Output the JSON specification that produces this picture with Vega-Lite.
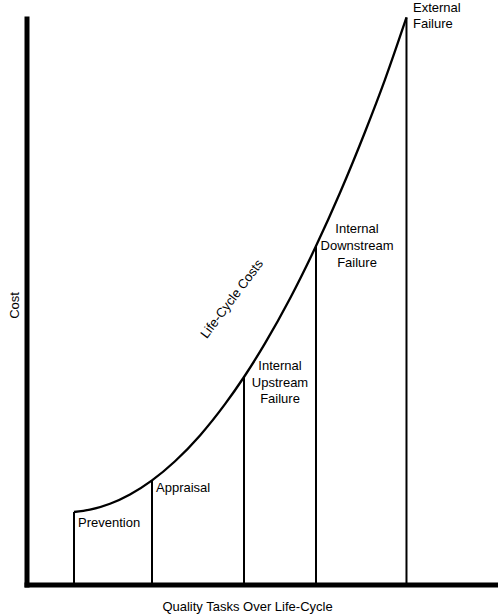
{
  "$schema": "https://vega.github.io/schema/vega-lite/v6.json",
  "autosize": {"type": "none"},
  "padding": {"left": 26.5, "top": 18.5, "right": 0, "bottom": 29.5},
  "width": 471.5,
  "height": 566,
  "background": "white",
  "config": {
    "view": {"stroke": null},
    "font": "Liberation Sans",
    "axis": {
      "domain": true, "domainWidth": 5, "domainColor": "black", "domainCap": "square",
      "ticks": false, "labels": false, "grid": false,
      "titleFont": "Liberation Sans", "titleFontSize": 13, "titleFontWeight": "normal", "titleColor": "black"
    }
  },
  "datasets": {
    "curve": [
      {"x": 10.07, "y": 12.81}, {"x": 13.47, "y": 13.22}, {"x": 17.71, "y": 14.26},
      {"x": 21.95, "y": 15.90}, {"x": 26.62, "y": 18.39}, {"x": 31.50, "y": 21.77},
      {"x": 36.80, "y": 26.34}, {"x": 42.10, "y": 31.86}, {"x": 46.13, "y": 36.66},
      {"x": 50.58, "y": 42.60}, {"x": 55.89, "y": 50.53}, {"x": 61.40, "y": 59.79},
      {"x": 66.49, "y": 69.21}, {"x": 71.79, "y": 79.95}, {"x": 76.03, "y": 89.20},
      {"x": 80.59, "y": 100.18}
    ],
    "bars": [
      {"task": "Prevention", "x": 10.07, "y": 12.81},
      {"task": "Appraisal", "x": 26.62, "y": 18.39},
      {"task": "Internal Upstream Failure", "x": 46.13, "y": 36.66},
      {"task": "Internal Downstream Failure", "x": 61.40, "y": 59.79},
      {"task": "External Failure", "x": 80.59, "y": 100.18}
    ],
    "labelsLeft": [
      {"label": "Prevention", "x": 10.92, "y": 10.87},
      {"label": "Appraisal", "x": 27.47, "y": 17.05},
      {"label": "External", "x": 81.97, "y": 101.94},
      {"label": "Failure", "x": 81.97, "y": 99.03}
    ],
    "labelsCenter": [
      {"label": "Internal", "x": 53.77, "y": 38.52},
      {"label": "Upstream", "x": 53.77, "y": 35.60},
      {"label": "Failure", "x": 53.77, "y": 32.69},
      {"label": "Internal", "x": 70.10, "y": 62.81},
      {"label": "Downstream", "x": 70.10, "y": 59.81},
      {"label": "Failure", "x": 70.10, "y": 56.80}
    ],
    "diag": [
      {"label": "Life-Cycle Costs", "x": 43.58, "y": 50.44}
    ]
  },
  "encoding": {
    "x": {"field": "x", "type": "quantitative", "scale": {"domain": [0, 100], "nice": false, "zero": false},
          "axis": {"title": "Quality Tasks Over Life-Cycle", "titleX": 220.5, "titleY": 21.5, "titleBaseline": "middle", "titleAlign": "center"}},
    "y": {"field": "y", "type": "quantitative", "scale": {"domain": [0, 100], "nice": false, "zero": false},
          "axis": {"title": "Cost", "titleX": -12.5, "titleY": 286.5, "titleAngle": -90, "titleBaseline": "middle", "titleAlign": "center"}}
  },
  "layer": [
    {
      "data": {"name": "bars"},
      "mark": {"type": "rule", "color": "black", "strokeWidth": 2, "clip": false},
      "encoding": {"y2": {"datum": 0}}
    },
    {
      "data": {"name": "curve"},
      "mark": {"type": "line", "color": "black", "strokeWidth": 2.3, "interpolate": "monotone", "clip": false},
      "encoding": {"order": {"field": "x", "type": "quantitative"}}
    },
    {
      "data": {"name": "labelsLeft"},
      "mark": {"type": "text", "align": "left", "baseline": "middle", "fontSize": 13, "color": "black", "font": "Liberation Sans", "clip": false},
      "encoding": {"text": {"field": "label"}}
    },
    {
      "data": {"name": "labelsCenter"},
      "mark": {"type": "text", "align": "center", "baseline": "middle", "fontSize": 13, "color": "black", "font": "Liberation Sans", "clip": false},
      "encoding": {"text": {"field": "label"}}
    },
    {
      "data": {"name": "diag"},
      "mark": {"type": "text", "align": "center", "baseline": "middle", "fontSize": 13, "angle": -53, "color": "black", "font": "Liberation Sans", "clip": false},
      "encoding": {"text": {"field": "label"}}
    }
  ]
}
